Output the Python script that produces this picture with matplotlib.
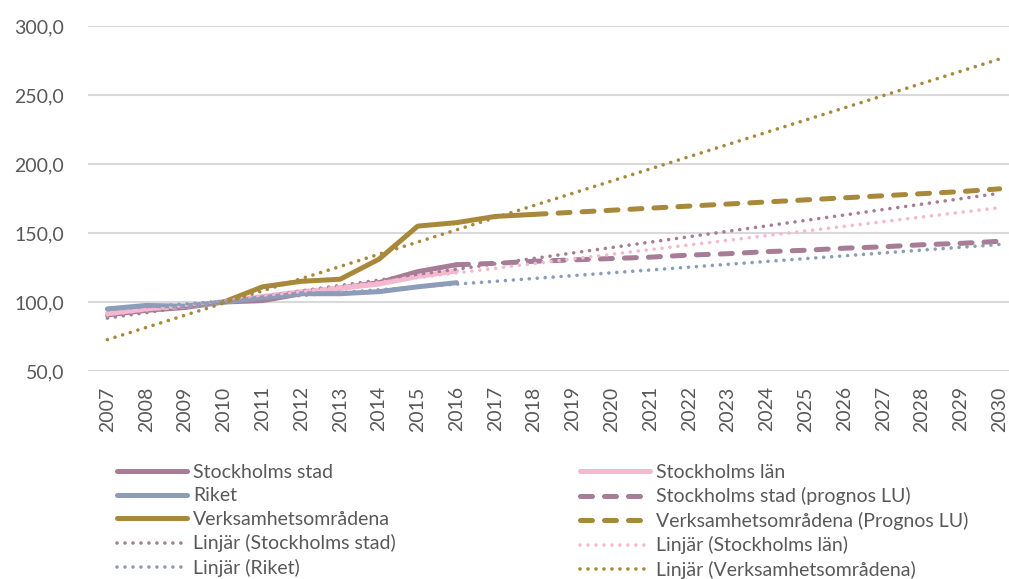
import matplotlib
matplotlib.use("Agg")
import matplotlib.pyplot as plt
import numpy as np

years = [str(y) for y in range(2007, 2031)]
yticks = [50, 100, 150, 200, 250, 300]
ytick_labels = ["50,0", "100,0", "150,0", "200,0", "250,0", "300,0"]

# Historical series 2007-2016
stad = [90.6, 94, 96, 100, 101, 106, 110, 114, 122, 127]
lan = [91.5, 95, 97, 100, 104, 107.5, 110, 113, 118.5, 122.5]
riket = [95, 97.5, 97, 100, 103, 106, 106, 107.5, 111, 114]
# Verksamhetsområdena 2010-2018
verk_years = list(range(2010, 2019))
verk = [100, 111, 115, 116.5, 131, 155, 157.5, 162, 163.5]
# Prognoses
stad_prog_years = list(range(2016, 2031))
stad_prog = [127, 128, 129.5, 130.5, 131.5, 132.5, 134, 135, 136.5, 137.5, 139, 140, 141.5, 142.5, 144]
verk_prog_years = list(range(2018, 2031))
verk_prog = [163.5, 165, 166.5, 168, 169.5, 171, 172.5, 174, 175.5, 177, 178.5, 180, 182]

C_STAD = "#A67C97"
C_LAN = "#F5B9CF"
C_RIKET = "#8D9CB8"
C_VERK = "#A8893B"
GRID = "#D9D9D9"
TXT = "#595959"

plt.rcParams['font.family'] = ['Lato', 'DejaVu Sans']

fig = plt.figure(figsize=(10.09, 5.79), dpi=100)
ax = fig.add_axes([88/1009, 1-371/579, 931/1009, 345/579])

def idx(yrs):
    return [y - 2007 for y in yrs]

hist_x = list(range(len(stad)))
LW = 3.6
kw_solid = dict(lw=LW, solid_capstyle='round', solid_joinstyle='round', zorder=3)
h_stad, = ax.plot(hist_x, stad, color=C_STAD, **kw_solid)
h_lan, = ax.plot(hist_x, lan, color=C_LAN, **kw_solid)
h_riket, = ax.plot(hist_x, riket, color=C_RIKET, **kw_solid)
h_verk, = ax.plot(idx(verk_years), verk, color=C_VERK, **kw_solid)

h_stad_p, = ax.plot(idx(stad_prog_years), stad_prog, color=C_STAD, lw=LW, dashes=(2.4, 2.4), dash_capstyle='round', zorder=3)
h_verk_p, = ax.plot(idx(verk_prog_years), verk_prog, color=C_VERK, lw=LW, dashes=(2.4, 2.4), dash_capstyle='round', zorder=3)

xall = np.arange(len(years))
def trend(xs, ys, color):
    p = np.polyfit(xs, ys, 1)
    line, = ax.plot(xall, np.polyval(p, xall), color=color, lw=2.6, dashes=(0.01, 2.2), dash_capstyle='round', zorder=4)
    return line

t_stad = trend(hist_x, stad, C_STAD)
t_lan = trend(hist_x, lan, C_LAN)
t_riket = trend(hist_x, riket, C_RIKET)
t_verk = trend(idx(verk_years), verk, C_VERK)

ax.set_xlim(-0.5, 23.5)
ax.set_ylim(50, 300)
ax.set_yticks(yticks)
ax.set_yticklabels(ytick_labels)
ax.set_xticks(xall)
ax.set_xticklabels(years, rotation=90)
ax.tick_params(axis='both', length=0, labelsize=14, colors=TXT)
ax.tick_params(axis='y', pad=17)
ax.tick_params(axis='x', pad=11)
for s in ax.spines.values():
    s.set_visible(False)
ax.grid(axis='y', color=GRID, lw=1.5)
ax.set_axisbelow(True)

leg_kw = dict(frameon=False, fontsize=14, handlelength=3.6, handletextpad=0.3,
              borderpad=0, labelspacing=0.33, borderaxespad=0)
col1 = [h_stad, h_riket, h_verk, t_stad, t_riket]
lab1 = ["Stockholms stad", "Riket", "Verksamhetsområdena", "Linjär (Stockholms stad)", "Linjär (Riket)"]
col2 = [h_lan, h_stad_p, h_verk_p, t_lan, t_verk]
lab2 = ["Stockholms län", "Stockholms stad (prognos LU)", "Verksamhetsområdena (Prognos LU)",
        "Linjär (Stockholms län)", "Linjär (Verksamhetsområdena)"]
l1 = fig.legend(col1, lab1, loc='upper left', bbox_to_anchor=(117/1009, 1-464/579), labelcolor=TXT, **leg_kw)
l2 = fig.legend(col2, lab2, loc='upper left', bbox_to_anchor=(580/1009, 1-464/579), labelcolor=TXT, **leg_kw)

fig.savefig("out.png", dpi=100)
